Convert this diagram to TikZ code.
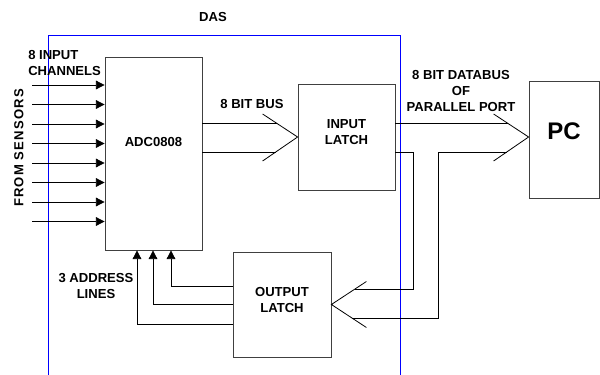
\documentclass[tikz,border=0pt]{standalone}
\usepackage{fontspec}
\setmainfont{Liberation Sans}
\usetikzlibrary{arrows.meta,fit,calc}

\begin{document}
\begin{tikzpicture}[x=0.75pt,y=-0.75pt,
  font=\fontsize{9.8}{12}\selectfont\bfseries,
  box/.style={draw=black!75,line width=0.6pt,inner sep=0pt,align=center},
  txt/.style={inner sep=0pt,align=center},
  wire/.style={line width=0.6pt},
  inarrow/.style={wire,-{Triangle[length=6.5pt,width=6.5pt]}}]
  \useasboundingbox (0,0) rectangle (600,375);
  % DAS frame
  \draw[blue,line width=0.6pt] (48,375) |- (400,35) -- (400,375);
  \node[txt] (das) at (213,17) {DAS};
  % blocks
  \node[box,fit={(105,57) (202,250)}] (adc) {};
  \node[txt] (adclbl) at ($(adc.center)+(0,-12)$) {ADC0808};
  \node[box,fit={(298,84) (395,190)}] (ilatch) {INPUT\\LATCH};
  \node[box,fit={(233,252) (331,357)}] (olatch) {OUTPUT\\LATCH};
  \node[box,fit={(529,81) (599,198)},font=\fontsize{18}{20}\selectfont\bfseries] (pc) {PC};
  % labels
  \node[txt,align=left,anchor=west] (chan) at (28,63) {8 INPUT\\CHANNELS};
  \node[txt,rotate=90] (sens) at (19,148) {\addfontfeatures{LetterSpace=9}FROM SENSORS};
  \node[txt] (bus) at (252,104) {8 BIT BUS};
  \node[txt] (dbus) at (461,91) {8 BIT DATABUS\\OF\\PARALLEL PORT};
  \node[txt] (addr) at (96,286) {3 ADDRESS\\LINES};
  % sensor inputs
  \foreach \y in {85,104.5,124,143.5,163,182.5,202,221.5}
    \draw[inarrow] (32,\y) -- (adc.west |- 0,\y);
  % bus into input latch
  \draw[wire] ($(ilatch.west)+(-35,-23)$) -- (ilatch.west) -- ($(ilatch.west)+(-35,24)$);
  \draw[wire] (adc.east |- 0,123) -- ($(ilatch.west)+(-21,-14)$);
  \draw[wire] (adc.east |- 0,152) -- ($(ilatch.west)+(-22,15)$);
  % parallel port
  \coordinate (pctip) at (pc.west |- 0,137);
  \draw[wire] ($(pctip)+(-35,-23)$) -- (pctip) -- ($(pctip)+(-35,24)$);
  \draw[wire] (ilatch.east |- 0,123) -- ($(pctip)+(-21,-14)$);
  % back into output latch
  \coordinate (otip) at (olatch.east);
  \draw[wire] ($(otip)+(35,-23)$) -- (otip) -- ($(otip)+(35,23)$);
  \draw[wire] (ilatch.east |- 0,152) -| (413,289) -- ($(otip)+(23.6,-15.5)$);
  \draw[wire] ($(pctip)+(-22,15)$) -| (438,318) -- ($(otip)+(20.5,13.5)$);
  % address lines
  \foreach \x/\y in {171/286,153/304,137/324}
    \draw[inarrow] (olatch.west |- 0,\y) -| (adc.south -| \x,0);
\end{tikzpicture}
\end{document}
